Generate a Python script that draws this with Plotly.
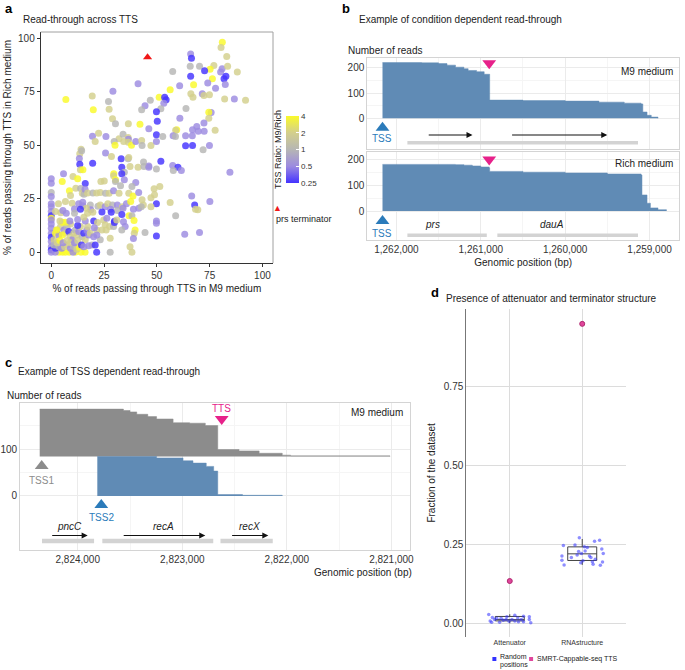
import numpy as np
import plotly.graph_objects as go

W, H = 685, 670
FONT = "Liberation Sans, Arial, Helvetica, sans-serif"

# ---------------- Panel a data ----------------
a_m9 = [81.0, 80.4, 83.1, 66.0, 66.4, 70.2, 77.0, 75.2, 80.9, 83.5,
        65.8, 57.5, 72.6, 80.2, 82.7, 81.8, 88.1, 66.0, 76.3, 41.1,
        60.8, 67.4, 74.1, 82.4, 77.8, 56.3, 66.1, 67.1, 71.5, 72.3,
        74.9, 82.1, 86.7, 92.0, 6.9, 29.2, 19.4, 27.1, 44.4, 46.9,
        42.8, 51.1, 53.7, 54.4, 53.3, 51.9, 63.8, 75.7, 74.6, 74.6,
        72.3, 49.8, 60.9, 19.9, 27.4, 29.0, 30.4, 36.5, 42.0, 46.2,
        50.2, 59.4, 58.9, 66.9, 68.9, 77.6, 22.4, 19.5, 25.9, 20.8,
        32.1, 34.0, 36.4, 36.5, 34.3, 36.5, 29.8, 30.2, 38.0, 40.0,
        42.8, 43.0, 47.2, 49.8, 49.8, 52.8, 57.7, 58.8, 63.6, 66.8,
        66.9, 63.6, 69.6, 72.4, 71.9, 74.9, 14.1, 13.5, 13.3, 14.4,
        25.7, 28.5, 33.1, 36.4, 36.7, 43.7, 46.2, 51.9, 57.5, 60.0,
        13.5, 19.6, 13.8, 15.0, 33.4, 37.3, 41.1, 43.9, 46.2, 49.8,
        57.8, 61.6, 84.6, 5.8, 10.3, 12.5, 29.6, 29.5, 34.6, 33.4,
        16.1, 5.2, 0, 0, 30.4, 30.4, 34.6, 40.0, 23.5, 25.1,
        32.8, 38.2, 48.7, 51.4, 8.6, 9.1, 11.6, 13.9, 14.7, 15.5,
        16.0, 17.2, 19.7, 21.5, 23.2, 25.7, 27.4, 0, 29.5, 32.1,
        36.7, 38.7, 41.4, 43.0, 47.2, 48.9, 56.3, 66.5, 67.9, 68.3,
        69.4, 75.1, 49.8, 0, 0, 0, 0, 0, 0, 3.4,
        4.5, 6.7, 9.9, 13.0, 14.9, 14.9, 18.5, 18.7, 16.6, 11.0,
        13.8, 22.1, 23.2, 25.5, 26.8, 29.0, 31.3, 33.7, 35.6, 37.6,
        28.1, 31.3, 34.0, 38.9, 41.4, 43.6, 47.2, 42.6, 5.5, 2.0,
        7.1, 11.0, 17.2, 19.7, 24.0, 28.4, 36.8, 38.2, 39.2, 29.9,
        33.4, 49.8, 49.8, 58.9, 49.8, 39.7, 39.3, 38.9, 44.4, 63.2,
        70.2, 37.3, 38.2, 0, 0, 0, 0, 0, 0, 0,
        0, 0, 1.3, 2.0, 2.8, 3.6, 4.4, 5.2, 6.0, 6.7,
        7.5, 8.3, 9.1, 9.9, 10.7, 11.4, 12.2, 13.0, 13.8, 14.6,
        15.4, 16.1, 16.9, 17.7, 18.5, 20.1, 21.6, 23.2, 19.3, 17.7,
        20.8, 21.5, 16.0, 14.1, 11.4, 8.5, 5.3, 3.6, 1.9, 6.7,
        27.9, 10.3, 2.0, 3.6, 4.9, 6.3, 7.5, 9.1, 10.7, 12.1,
        13.3, 1.3, 2.8, 4.1, 5.6, 7.5, 9.1, 11.0, 12.5, 14.3,
        15.4, 2.5, 5.2, 12.5, 17.2, 9.1, 6.7, 4.1, 8.8, 16.1,
        12.5, 15.4, 20.1, 21.9, 20.4, 21.6, 24.0, 26.0, 27.6, 25.5,
        24.8, 26.3, 29.5, 29.9, 31.0, 34.2, 35.0, 33.4, 27.9]
a_rich = [98.0, 95.6, 91.4, 92.5, 90.5, 86.8, 87.2, 85.4, 85.7, 86.8,
          86.8, 84.4, 84.7, 84.1, 82.2, 81.0, 84.1, 82.1, 81.0, 78.7,
          77.7, 78.2, 79.0, 78.3, 76.5, 75.9, 74.0, 72.4, 74.0, 73.2,
          73.5, 71.5, 71.5, 70.9, 71.3, 75.1, 72.9, 70.4, 68.4, 70.9,
          66.5, 72.3, 72.3, 71.2, 69.6, 67.0, 67.1, 65.2, 65.3, 62.6,
          60.3, 65.6, 62.6, 66.5, 66.8, 62.3, 60.0, 60.0, 59.8, 57.6,
          61.1, 57.2, 56.9, 57.2, 58.7, 56.9, 55.6, 54.2, 54.0, 51.7,
          53.0, 55.1, 53.6, 52.8, 51.7, 51.4, 51.7, 50.0, 50.0, 51.7,
          52.2, 49.8, 49.8, 54.8, 51.7, 54.0, 54.4, 54.0, 54.4, 54.4,
          49.8, 49.7, 56.5, 56.5, 47.8, 49.8, 48.1, 46.0, 43.8, 47.4,
          46.3, 44.7, 43.6, 43.6, 44.2, 42.1, 40.3, 42.5, 40.5, 39.7,
          41.1, 41.6, 38.5, 38.5, 39.7, 40.0, 39.7, 40.0, 39.7, 38.9,
          38.2, 38.2, 37.4, 36.6, 35.4, 34.3, 36.6, 35.7, 37.4, 36.6,
          32.1, 33.0, 34.3, 32.2, 33.8, 33.0, 33.8, 32.6, 33.0, 33.3,
          31.0, 30.7, 29.6, 30.7, 28.7, 26.5, 29.9, 29.8, 27.6, 27.1,
          29.4, 27.7, 27.7, 27.7, 27.9, 27.6, 27.6, 27.9, 28.7, 27.6,
          27.6, 26.3, 27.9, 24.5, 25.5, 26.8, 23.2, 26.3, 22.1, 20.1,
          19.8, 23.7, 22.6, 26.0, 22.6, 21.3, 19.0, 17.1, 15.9, 22.6,
          18.5, 23.7, 22.9, 22.6, 23.4, 21.7, 22.1, 19.8, 20.6, 20.2,
          20.1, 21.5, 22.1, 21.3, 22.6, 22.1, 22.1, 21.3, 22.6, 23.7,
          20.1, 19.5, 20.6, 20.1, 20.6, 22.1, 21.3, 21.3, 19.5, 19.0,
          18.2, 18.2, 18.2, 18.7, 18.8, 18.7, 17.0, 17.0, 14.8, 14.5,
          17.6, 14.6, 13.6, 17.0, 7.6, 10.4, 8.9, 6.4, 9.2, 8.4,
          9.2, 2.6, 0, 15.1, 13.2, 11.2, 8.9, 7.0, 5.0, 2.6,
          1.1, 0, 5.8, 8.9, 10.4, 8.1, 12.0, 14.0, 10.4, 8.9,
          12.0, 9.7, 7.3, 5.8, 8.9, 10.4, 8.1, 9.7, 12.0, 7.3,
          8.9, 5.8, 10.4, 8.1, 8.9, 7.3, 10.4, 5.8, 3.4, 3.1,
          3.4, 0, 0, 0, 0, 0, 0, 0, 0, 0,
          0, 0, 1.9, 2.6, 1.9, 2.6, 3.4, 1.9, 2.6, 1.4,
          2.3, 3.4, 4.5, 5.5, 4.5, 5.5, 4.5, 4.5, 5.5, 3.4,
          2.6, 10.4, 8.1, 12.5, 12.0, 13.2, 14.0, 14.6, 14.6, 14.6,
          15.3, 16.4, 14.6, 13.9, 11.5, 8.1, 10.4, 10.4, 12.0, 12.8,
          15.1, 15.9, 12.0, 13.9, 15.1, 14.3, 12.0, 10.4, 6.5]
a_ratio = [4, 2, 2, 0.5, 0.25, 1, 2, 4, 0.5, 2,
           1, 1, 0.25, 0.5, 0.25, 0.25, 2, 0.25, 4, 0.5,
           0.5, 4, 0.5, 0.5, 0.5, 4, 2, 2, 0.5, 2,
           2, 2, 0.5, 2, 4, 0.5, 2, 1, 0.5, 1,
           1, 4, 0.25, 0.25, 0.5, 1, 1, 0.5, 4, 2,
           0.5, 0.25, 0.5, 4, 2, 2, 1, 2, 4, 0.5,
           0.25, 4, 2, 0.5, 0.5, 2, 2, 0.5, 0.5, 2,
           2, 1, 2, 0.5, 2, 2, 1, 4, 4, 0.5,
           2, 1, 2, 0.25, 0.5, 1, 0.5, 1, 0.5, 0.5,
           0.25, 0.25, 0.5, 0.5, 1, 0.5, 2, 2, 0.5, 1,
           0.5, 2, 0.25, 1, 2, 1, 0.5, 0.25, 0.5, 0.25,
           0.25, 0.25, 2, 4, 0.25, 2, 2, 1, 0.5, 1,
           1, 0.5, 0.5, 0.5, 2, 4, 4, 2, 1, 0.25,
           0.25, 4, 0.5, 0.5, 4, 1, 0.5, 0.5, 2, 2,
           1, 1, 2, 2, 4, 2, 2, 1, 2, 1,
           0.5, 2, 1, 2, 2, 1, 2, 1, 0.5, 2,
           2, 4, 0.5, 2, 2, 2, 2, 0.5, 0.25, 2,
           2, 0.5, 0.25, 0.5, 0.5, 0.5, 0.5, 0.25, 4, 2,
           2, 2, 2, 0.5, 0.5, 0.5, 1, 0.5, 2, 0.5,
           0.25, 1, 2, 0.5, 2, 1, 0.5, 2, 0.5, 4,
           0.5, 1, 0.5, 0.5, 0.5, 2, 2, 1, 0.5, 2,
           0.5, 1, 2, 2, 0.25, 0.25, 4, 1, 4, 0.25,
           0.25, 0.5, 0.5, 1, 0.25, 4, 2, 0.5, 1, 0.5,
           0.5, 2, 2, 0.5, 0.5, 0.5, 0.5, 0.25, 0.5, 0.5,
           0.25, 0.5, 2, 4, 2, 0.5, 2, 4, 0.5, 2,
           1, 0.25, 2, 0.5, 2, 1, 2, 0.5, 2, 1,
           0.25, 2, 0.5, 0.5, 2, 0.5, 2, 1, 1, 0.5,
           0.25, 0.25, 4, 4, 4, 4, 4, 4, 0.5, 4,
           1, 0.5, 0.25, 1, 0.5, 2, 2, 0.5, 1, 2,
           4, 1, 2, 4, 0.5, 2, 2, 0.5, 2, 0.25,
           0.5, 4, 4, 0.25, 2, 2, 4, 2, 0.5, 0.5,
           0.5, 2, 0.25, 2, 0.5, 0.5, 2, 2, 2, 2,
           2, 0.5, 1, 0.25, 2, 0.5, 0.5, 1, 2]
a_prs_m9 = [45.6]
a_prs_rich = [91.0]
a_ticks = [0, 25, 50, 75, 100]
a_cb_vals = [0.25, 0.5, 1, 2, 4]

# ---------------- Panel b data ----------------
b_ticks = [1262000, 1261000, 1260000, 1259000]
b_m9_pos = [1262165, 1261700, 1261500, 1261400, 1261300, 1261200, 1261150, 1261050,
            1260960, 1260895, 1260500, 1260000, 1259600, 1259300, 1259100, 1259080,
            1259030, 1258980, 1258900]
b_m9_reads = [220, 219, 216, 210, 202, 196, 189, 184, 174, 72, 70, 68, 64, 60, 57,
              25, 12, 5, 0]
b_rich_pos = [1262165, 1261400, 1261300, 1261200, 1261100, 1261000, 1260900, 1260895,
              1260500, 1260000, 1259500, 1259100, 1259090, 1259030, 1258990, 1258900,
              1258800]
b_rich_reads = [180, 180, 179, 177, 174, 170, 166, 153, 150, 147, 143, 139, 62, 30,
                12, 5, 0]
b_tss = [1262165]
b_tts = [1260900]
b_track_start = [1261870]
b_track_end = [1259137]
b_gene_names = ["prs", "dauA"]
b_gene_start = [1261870, 1260804]
b_gene_end = [1260929, 1259137]
b_gene_label_pos = [1261570, 1260157]
b_arrow_start = [1261635, 1260647]
b_arrow_end = [1261098, 1259501]

# ---------------- Panel c data ----------------
c_ticks = [2824000, 2823000, 2822000, 2821000]
c_tss1_pos = [2824364, 2823563, 2823500, 2823436, 2823330, 2823246, 2823088, 2822930,
              2822780, 2822661, 2822457, 2822265, 2822044, 2821964, 2821014]
c_tss1_reads = [101, 98, 95, 90, 85, 80, 72, 71, 66, 15, 12, 7, 3, 1.5, 0]
c_tss2_pos = [2823813, 2823246, 2822993, 2822898, 2822771, 2822700, 2822661, 2822424,
              2822044]
c_tss2_reads = [84, 81, 75, 70, 63, 53, 3, 1.5, 0]
c_tss1 = [2824345]
c_tss2 = [2823775]
c_tts = [2822623]
c_gene_names = ["pncC", "recA", "recX"]
c_gene_start = [2824342, 2823765, 2822635]
c_gene_end = [2823844, 2822704, 2822135]
c_arrow_start = [2824259, 2823575, 2822538]
c_arrow_end = [2823905, 2822780, 2822177]

# ---------------- Panel d data ----------------
d_categories = ["Attenuator", "RNAstructure"]
d_q1 = [0.008, 0.199]
d_median = [0.012, 0.220]
d_q3 = [0.022, 0.242]
d_low = [0.0, 0.185]
d_high = [0.029, 0.267]
d_att_jitter = [-0.29, -0.24, -0.27, -0.25, -0.18, -0.14, -0.09, -0.04, -0.01, 0.07,
                0.07, 0.12, 0.16, 0.19, 0.19, 0.27, 0.27, 0.29, -0.21, -0.12,
                -0.05, 0.03, 0.11]
d_att_frac = [0.028, 0.019, 0.008, 0.004, 0.016, 0.004, 0.010, 0.021, 0.007, 0.026,
              0.008, 0.005, 0.012, 0.023, 0.005, 0.021, 0.012, 0.002, 0.012, 0.016,
              0.012, 0.012, 0.017]
d_rna_jitter = [-0.26, -0.28, -0.28, -0.25, -0.15, -0.10, -0.04, -0.05, -0.02, 0.03,
                0.04, 0.07, 0.10, 0.12, 0.14, 0.15, 0.18, 0.17, 0.24, 0.27,
                0.29, 0.28, 0.25, 0.01, -0.01, -0.07]
d_rna_frac = [0.246, 0.213, 0.200, 0.185, 0.208, 0.248, 0.271, 0.227, 0.192, 0.242,
              0.229, 0.240, 0.213, 0.208, 0.195, 0.187, 0.203, 0.260, 0.263, 0.235,
              0.221, 0.194, 0.184, 0.198, 0.221, 0.216]
d_smrt = [0.134, 0.947]
d_yticks = [0, 0.25, 0.5, 0.75]

# ---------------- styling ----------------
BLUE_AREA = "#608bb5"
GRAY_AREA = "#8c8c8c"
TSS_BLUE = "#2b7bba"
TTS_MAG = "#e7218a"
GENE_GRAY = "#d3d3d3"
GRID = "#ebebeb"
CS = [[0, "#4433ff"], [0.25, "#9c8be0"], [0.5, "#b6b6b4"], [0.75, "#d3cf8c"], [1, "#fafa2a"]]


def fx(px):
    return px / W


def fy(py):
    return 1 - py / H


fig = go.Figure()
annots = []
shapes = []


def ann(px, py, text, size=10, xanchor="left", color="#222", **kw):
    annots.append(dict(x=fx(px), y=fy(py), xref="paper", yref="paper", text=text,
                       showarrow=False, xanchor=xanchor, yanchor="middle",
                       font=dict(size=size, color=color, family=FONT), **kw))


def dann(x, y, xa, ya, text, size=10, color="#222", xanchor="center"):
    annots.append(dict(x=x, y=y, xref=xa, yref=ya, text=text, showarrow=False,
                       xanchor=xanchor, yanchor="middle",
                       font=dict(size=size, color=color, family=FONT)))


def arrow(x0, x1, y, xa, ya):
    annots.append(dict(x=x1, y=y, ax=x0, ay=y, xref=xa, yref=ya, axref=xa, ayref=ya,
                       text="", showarrow=True, arrowhead=2, arrowsize=1.1,
                       arrowwidth=1.1, arrowcolor="#111", standoff=0, startstandoff=0))


def segs(starts, ends, y):
    xs, ys = [], []
    for s, e in zip(starts, ends):
        xs += [s, e, None]
        ys += [y, y, None]
    return xs, ys


# ================= Panel a =================
fig.add_trace(go.Scatter(
    x=a_m9, y=a_rich, mode="markers", xaxis="x", yaxis="y", hoverinfo="skip",
    marker=dict(size=7, color=np.log2(a_ratio), colorscale=CS, cmin=-2, cmax=2,
                opacity=0.82, line=dict(width=0),
                showscale=True,
                colorbar=dict(x=fx(287), xanchor="left", y=fy(149.5), yanchor="middle",
                              len=67, lenmode="pixels", thickness=13, xpad=0, ypad=0,
                              tickvals=list(np.log2(a_cb_vals)),
                              ticktext=[str(v) for v in a_cb_vals],
                              tickfont=dict(size=8, color="#333", family=FONT),
                              ticks="inside", tickcolor="white", ticklen=3,
                              outlinewidth=0))))
fig.add_trace(go.Scatter(x=a_prs_m9, y=a_prs_rich, mode="markers", xaxis="x", yaxis="y",
                         marker=dict(symbol="triangle-up", size=8, color="#f01818"),
                         hoverinfo="skip"))

# ================= Panel b =================
for pos, val, xa, ya in [(b_m9_pos, b_m9_reads, "x2", "y2"),
                         (b_rich_pos, b_rich_reads, "x3", "y3")]:
    fig.add_trace(go.Scatter(x=pos, y=val, mode="lines", xaxis=xa, yaxis=ya,
                             line=dict(shape="hv", width=0.5, color=BLUE_AREA),
                             fill="tozeroy", fillcolor=BLUE_AREA, hoverinfo="skip"))

gx, gy = segs(b_track_start, b_track_end, -96)
fig.add_trace(go.Scatter(x=gx, y=gy, mode="lines", xaxis="x2", yaxis="y2",
                         line=dict(color=GENE_GRAY, width=3.5), hoverinfo="skip"))
gx, gy = segs(b_gene_start, b_gene_end, -94)
fig.add_trace(go.Scatter(x=gx, y=gy, mode="lines", xaxis="x3", yaxis="y3",
                         line=dict(color=GENE_GRAY, width=3.5), hoverinfo="skip"))
for s, e in zip(b_arrow_start, b_arrow_end):
    arrow(s, e, -66, "x2", "y2")
for name, p in zip(b_gene_names, b_gene_label_pos):
    dann(p, -54, "x3", "y3", "<i>%s</i>" % name, size=10)

for ya, tss_y, tss_t, tts_y, tts_t in [("y2", -37, -78, 217, 267),
                                        ("y3", -39, -86, 199, 251)]:
    xa = "x2" if ya == "y2" else "x3"
    fig.add_trace(go.Scatter(x=b_tss, y=[tss_y], mode="markers", xaxis=xa, yaxis=ya,
                             cliponaxis=False,
                             marker=dict(symbol="triangle-up", size=12, color=TSS_BLUE),
                             hoverinfo="skip"))
    fig.add_trace(go.Scatter(x=b_tts, y=[tts_y], mode="markers", xaxis=xa, yaxis=ya,
                             cliponaxis=False,
                             marker=dict(symbol="triangle-down", size=12, color=TTS_MAG),
                             hoverinfo="skip"))
    dann(b_tss[0], tss_t, xa, ya, "TSS", size=10, color=TSS_BLUE)
    dann(b_tts[0], tts_t, xa, ya, "TTS", size=10, color=TTS_MAG)
dann(1258700, 186, "x2", "y2", "M9 medium", size=10, xanchor="right")
dann(1258700, 184, "x3", "y3", "Rich medium", size=10, xanchor="right")

# ================= Panel c =================
C_OFFSET = 84
fig.add_trace(go.Scatter(x=[c_tss1_pos[0], c_tss1_pos[-1]], y=[C_OFFSET, C_OFFSET],
                         mode="lines", xaxis="x4", yaxis="y4",
                         line=dict(width=0, color=GRAY_AREA), hoverinfo="skip"))
fig.add_trace(go.Scatter(x=c_tss1_pos, y=[C_OFFSET + v for v in c_tss1_reads],
                         mode="lines", xaxis="x4", yaxis="y4",
                         line=dict(shape="hv", width=0.5, color=GRAY_AREA),
                         fill="tonexty", fillcolor=GRAY_AREA, hoverinfo="skip"))
fig.add_trace(go.Scatter(x=c_tss2_pos, y=c_tss2_reads, mode="lines", xaxis="x4", yaxis="y4",
                         line=dict(shape="hv", width=0.5, color=BLUE_AREA),
                         fill="tozeroy", fillcolor=BLUE_AREA, hoverinfo="skip"))
gx, gy = segs(c_gene_start, c_gene_end, -96)
fig.add_trace(go.Scatter(x=gx, y=gy, mode="lines", xaxis="x4", yaxis="y4",
                         line=dict(color=GENE_GRAY, width=4.5), hoverinfo="skip"))
for s, e in zip(c_arrow_start, c_arrow_end):
    arrow(s, e, -84, "x4", "y4")
for name, s, e in zip(c_gene_names, c_arrow_start, c_arrow_end):
    dann((s + e) / 2, -65, "x4", "y4", "<i>%s</i>" % name, size=10)

fig.add_trace(go.Scatter(x=c_tss1, y=[64], mode="markers", xaxis="x4", yaxis="y4",
                         cliponaxis=False,
                         marker=dict(symbol="triangle-up", size=12, color=GRAY_AREA),
                         hoverinfo="skip"))
fig.add_trace(go.Scatter(x=c_tss2, y=[-19], mode="markers", xaxis="x4", yaxis="y4",
                         cliponaxis=False,
                         marker=dict(symbol="triangle-up", size=12, color=TSS_BLUE),
                         hoverinfo="skip"))
fig.add_trace(go.Scatter(x=c_tts, y=[164], mode="markers", xaxis="x4", yaxis="y4",
                         cliponaxis=False,
                         marker=dict(symbol="triangle-down", size=12, color=TTS_MAG),
                         hoverinfo="skip"))
dann(c_tss1[0], 34, "x4", "y4", "TSS1", color=GRAY_AREA)
dann(c_tss2[0], -45, "x4", "y4", "TSS2", color=TSS_BLUE)
dann(c_tts[0], 187, "x4", "y4", "TTS", color=TTS_MAG)
dann(2820870, 177, "x4", "y4", "M9 medium", xanchor="right")

# ================= Panel d =================
for i in range(2):
    fig.add_trace(go.Box(x=[i], q1=[d_q1[i]], median=[d_median[i]], q3=[d_q3[i]],
                         lowerfence=[d_low[i]], upperfence=[d_high[i]],
                         xaxis="x5", yaxis="y5", width=0.4, whiskerwidth=0,
                         fillcolor="rgba(255,255,255,0)", boxpoints=False,
                         line=dict(color="#444", width=1), hoverinfo="skip"))
fig.add_trace(go.Scatter(x=[0 + j for j in d_att_jitter] + [1 + j for j in d_rna_jitter],
                         y=d_att_frac + d_rna_frac, mode="markers", xaxis="x5", yaxis="y5",
                         marker=dict(size=3.5, color="rgba(50,50,255,0.55)"),
                         hoverinfo="skip"))
fig.add_trace(go.Scatter(x=[0, 1], y=d_smrt, mode="markers", xaxis="x5", yaxis="y5",
                         marker=dict(size=5, color="#e0469c", line=dict(color="#b02a70", width=1)),
                         hoverinfo="skip"))

# ================= Layout / axes =================
tickf = dict(size=10, color="#333", family=FONT)
layout = dict(
    width=W, height=H, margin=dict(l=0, r=0, t=0, b=0),
    paper_bgcolor="white", plot_bgcolor="white", showlegend=False,
    font=dict(family=FONT, color="#222"),
    xaxis=dict(domain=[fx(40), fx(274)], anchor="y", range=[-5, 105],
               tickvals=a_ticks, ticks="outside", ticklen=3, tickcolor="#333",
               showline=True, linecolor="#333", linewidth=1, showgrid=False,
               zeroline=False, tickfont=tickf,
               title=dict(text="% of reads passing through TTS in M9 medium",
                          font=dict(size=10, color="#222"), standoff=4)),
    yaxis=dict(domain=[fy(263), fy(32)], anchor="x", range=[-5, 102.8],
               tickvals=a_ticks, ticks="outside", ticklen=3, tickcolor="#333",
               showline=True, linecolor="#333", linewidth=1, showgrid=False,
               zeroline=False, tickfont=tickf,
               title=dict(text="% of reads passing through TTS in Rich medium",
                          font=dict(size=10, color="#222"), standoff=4)),
)

b_minor = [(b_ticks[i] + b_ticks[i + 1]) / 2 for i in range(len(b_ticks) - 1)]
c_minor = [(c_ticks[i] + c_ticks[i + 1]) / 2 for i in range(len(c_ticks) - 1)]
for ax, ya, top in [("xaxis2", "y2", True), ("xaxis3", "y3", False)]:
    layout[ax] = dict(domain=[fx(369), fx(683)], anchor=ya, range=[1262345, 1258651],
                      tickvals=b_ticks, tickformat=",d", showticklabels=not top,
                      ticks="", showgrid=True, gridcolor=GRID, zeroline=False,
                      showline=True, mirror=True, linecolor="#d4d4d4",
                      minor=dict(tickvals=b_minor, showgrid=True, gridcolor="#f5f5f5"),
                      tickfont=tickf)
layout["xaxis3"]["title"] = dict(text="Genomic position (bp)",
                                 font=dict(size=10, color="#222"), standoff=4)
layout["yaxis2"] = dict(domain=[fy(149), fy(58.3)], anchor="x2", range=[-121, 237],
                        tickvals=[0, 100, 200], ticks="", showgrid=True, gridcolor=GRID,
                        zeroline=False, showline=True, mirror=True, linecolor="#d4d4d4",
                        minor=dict(tickvals=[50, 150], showgrid=True, gridcolor="#f5f5f5"),
                        tickfont=tickf)
layout["yaxis3"] = dict(domain=[fy(240), fy(151.7)], anchor="x3", range=[-112, 229],
                        tickvals=[0, 100, 200], ticks="", showgrid=True, gridcolor=GRID,
                        zeroline=False, showline=True, mirror=True, linecolor="#d4d4d4",
                        minor=dict(tickvals=[50, 150], showgrid=True, gridcolor="#f5f5f5"),
                        tickfont=tickf)
layout["xaxis4"] = dict(domain=[fx(19.3), fx(411.7)], anchor="y4", range=[2824551, 2820825],
                        tickvals=c_ticks, tickformat=",d", ticks="", showgrid=True,
                        gridcolor=GRID, zeroline=False, showline=True, mirror=True,
                        linecolor="#d4d4d4",
                        minor=dict(tickvals=c_minor, showgrid=True, gridcolor="#f5f5f5"),
                        tickfont=tickf)
layout["yaxis4"] = dict(domain=[fy(550), fy(403)], anchor="x4", range=[-115, 198],
                        tickvals=[0, 100], ticks="", showgrid=True, gridcolor=GRID,
                        zeroline=False, showline=True, mirror=True, linecolor="#d4d4d4",
                        minor=dict(tickvals=[50, 150], showgrid=True, gridcolor="#f5f5f5"),
                        tickfont=tickf)
layout["xaxis5"] = dict(domain=[fx(468.7), fx(629.3)], anchor="y5", range=[-0.6, 1.6],
                        tickvals=[0, 1], ticktext=d_categories, ticks="",
                        showgrid=True, gridcolor="#dcdcdc", zeroline=False, showline=False,
                        tickfont=dict(size=7, color="#333", family=FONT))
layout["yaxis5"] = dict(domain=[fy(636.7), fy(309)], anchor="x5", range=[-0.042, 0.994],
                        tickvals=d_yticks, ticktext=["%.2f" % v for v in d_yticks],
                        ticks="", showgrid=True, gridcolor="#dcdcdc", zeroline=False,
                        showline=True, linecolor="#777", linewidth=1, tickfont=tickf,
                        title=dict(text="Fraction of the dataset",
                                   font=dict(size=10, color="#222"), standoff=6))

shapes.append(dict(type="line", xref="x domain", yref="y domain", x0=0, x1=1, y0=1, y1=1,
                   line=dict(color="#a0a0a0", width=1)))
shapes.append(dict(type="line", xref="x domain", yref="y domain", x0=1, x1=1, y0=0, y1=1,
                   line=dict(color="#a0a0a0", width=1)))

ann(2, 9, "<b>a</b>", size=13, color="#000")
ann(20, 19, "Read-through across TTS", size=10)
ann(279, 149, "TSS Ratio: M9/Rich", size=9, xanchor="center", textangle=-90)
ann(279, 208, "▲", size=9, xanchor="center", color="#f01818")
ann(275, 219, "prs terminator", size=9)

ann(341, 9, "<b>b</b>", size=13, color="#000")
ann(359, 20, "Example of condition dependent read-through", size=10)
ann(348, 51, "Number of reads", size=10)

ann(2, 362, "<b>c</b>", size=13, color="#000")
ann(15, 371, "Example of TSS dependent read-through", size=10)
ann(4, 395, "Number of reads", size=10)
ann(416, 572, "Genomic position (bp)", size=10, xanchor="right")

ann(431, 292, "<b>d</b>", size=13, color="#000")
ann(446, 298, "Presence of attenuator and terminator structure", size=10)

shapes.append(dict(type="rect", xref="paper", yref="paper", x0=fx(495), x1=fx(499),
                   y0=fy(661), y1=fy(657), fillcolor="#3232ff", line=dict(width=0)))
shapes.append(dict(type="rect", xref="paper", yref="paper", x0=fx(532), x1=fx(536),
                   y0=fy(661), y1=fy(657), fillcolor="#e0469c", line=dict(width=0)))
ann(501, 656, "Random", size=7)
ann(501, 665, "positions", size=7)
ann(538, 659, "SMRT-Cappable-seq TTS", size=7)

layout["annotations"] = annots
layout["shapes"] = shapes
fig.update_layout(**layout)
fig.write_html("out.html", config={"displayModeBar": False},
               post_script="document.body.style.margin='0px';")
